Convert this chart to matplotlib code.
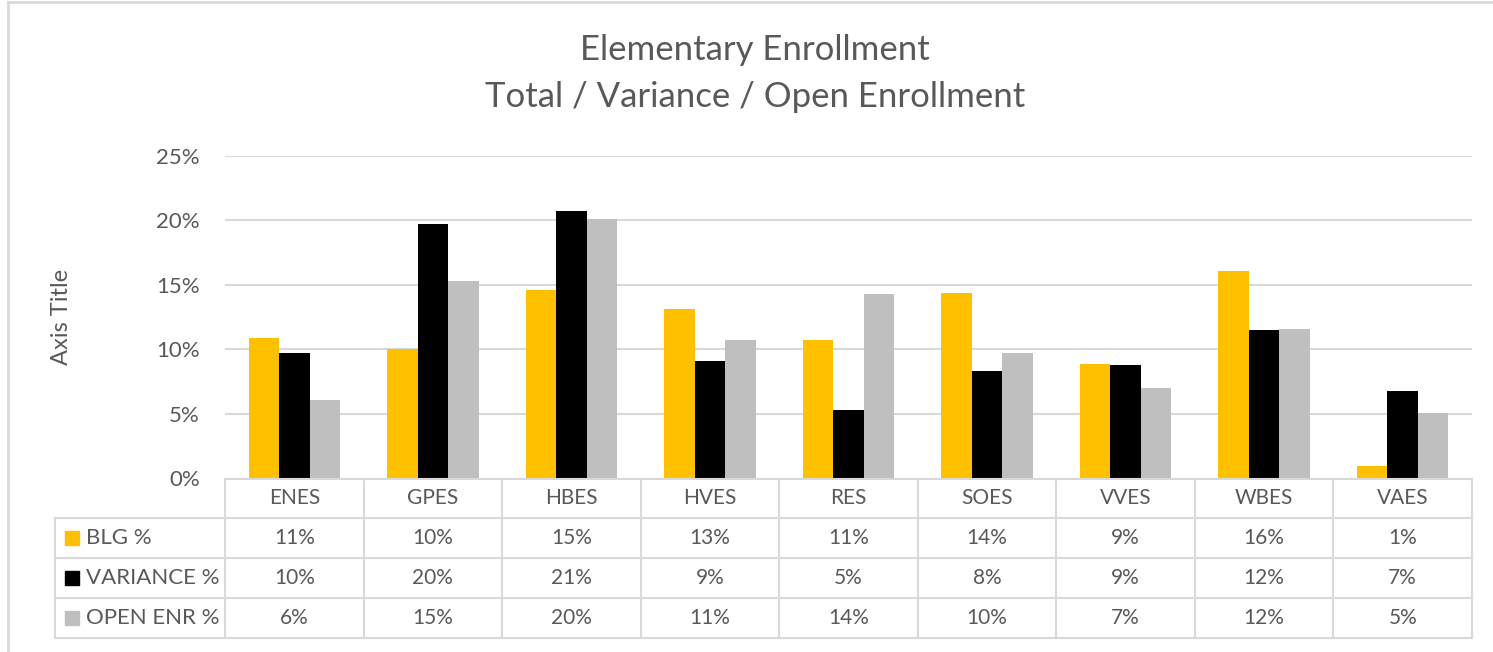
import matplotlib
matplotlib.use('Agg')
import matplotlib.pyplot as plt
from matplotlib.patches import Rectangle
from matplotlib.lines import Line2D

# dados (porcentagem)
escolas = ['ENES', 'GPES', 'HBES', 'HVES', 'RES', 'SOES', 'VVES', 'WBES', 'VAES']
blg = [10.9, 10.0, 14.6, 13.1, 10.7, 14.4, 8.9, 16.1, 1.0]
variance = [9.7, 19.7, 20.7, 9.1, 5.3, 8.3, 8.8, 11.5, 6.8]
open_enr = [6.1, 15.3, 20.1, 10.7, 14.3, 9.7, 7.0, 11.6, 5.1]
series_nomes = ['BLG %', 'VARIANCE %', 'OPEN ENR %']
series = [blg, variance, open_enr]
yticks = [0, 5, 10, 15, 20, 25]

cores = ['#FFC000', '#000000', '#BFBFBF']
cinza_txt = '#595959'
cinza_lin = '#D9D9D9'

plt.rcParams['font.family'] = ['Lato', 'DejaVu Sans']

W, H = 1493, 652
fig = plt.figure(figsize=(W / 100, H / 100), dpi=100)

# posicoes em pixels
x0, x1 = 225, 1472      # area do grafico
y_top, y_base = 155.7, 478.5
leg_x = 55
y_tab_bot = 638
cw = (x1 - x0) / len(escolas)

def fx(p):
    return p / W

def fy(p):
    return 1 - p / H

ax = fig.add_axes([fx(x0), fy(y_base), fx(x1 - x0), (y_base - y_top) / H])
n = len(escolas)
largura = 0.22
for k, (vals, cor) in enumerate(zip(series, cores)):
    pos = [i + (k - 1) * largura for i in range(n)]
    ax.bar(pos, vals, width=largura, color=cor, zorder=3)

ax.set_xlim(-0.5, n - 0.5)
ax.set_ylim(0, 25)
ax.set_yticks(yticks)
ax.set_yticklabels([f'{t}%' for t in yticks], color=cinza_txt, fontsize=16)
ax.tick_params(axis='y', length=0, pad=18)
ax.set_xticks([])
ax.grid(axis='y', color=cinza_lin, linewidth=1.5, zorder=0)
for s in ax.spines.values():
    s.set_visible(False)

# tabela de dados abaixo do grafico
tax = fig.add_axes([fx(leg_x), fy(y_tab_bot), fx(x1 - leg_x), (y_tab_bot - y_base) / H])
xl = -0.5 - (x0 - leg_x) / cw
tax.set_xlim(xl, n - 0.5)
tax.set_ylim(4, 0)
tax.axis('off')

lw = 1.5
# linhas horizontais
tax.plot([-0.5, n - 0.5], [0, 0], color=cinza_lin, lw=lw, clip_on=False)
for r in range(1, 5):
    tax.plot([xl, n - 0.5], [r, r], color=cinza_lin, lw=lw, clip_on=False)
# linhas verticais
tax.plot([xl, xl], [1, 4], color=cinza_lin, lw=lw, clip_on=False)
for i in range(n + 1):
    tax.plot([i - 0.5, i - 0.5], [0, 4], color=cinza_lin, lw=lw, clip_on=False)

for i, e in enumerate(escolas):
    tax.text(i, 0.5, e, ha='center', va='center', color=cinza_txt, fontsize=15)
    for r, vals in enumerate(series):
        tax.text(i, r + 1.5, f'{int(vals[i] + 0.5)}%', ha='center', va='center',
                 color=cinza_txt, fontsize=15)

msz = 14 / cw
for r, (nome, cor) in enumerate(zip(series_nomes, cores)):
    mx = xl + 10 / cw
    tax.add_patch(Rectangle((mx, r + 1.5 - 0.18), msz, 0.36, color=cor, clip_on=False))
    tax.text(xl + 31 / cw, r + 1.5, nome, ha='left', va='center', color=cinza_txt, fontsize=16)

# titulo e rotulo do eixo
fig.text(fx(755), fy(50), 'Elementary Enrollment', ha='center', va='center',
         color=cinza_txt, fontsize=25)
fig.text(fx(755), fy(97), 'Total / Variance / Open Enrollment', ha='center', va='center',
         color=cinza_txt, fontsize=25)
fig.text(fx(62), fy(317), 'Axis Title', rotation=90, ha='center', va='center',
         color=cinza_txt, fontsize=17)

# borda externa
fig.add_artist(Line2D([fx(8), 1], [fy(2), fy(2)], color=cinza_lin, lw=2))
fig.add_artist(Line2D([fx(8), fx(8)], [fy(2), 0], color=cinza_lin, lw=2))

fig.savefig('out.png', dpi=100)
